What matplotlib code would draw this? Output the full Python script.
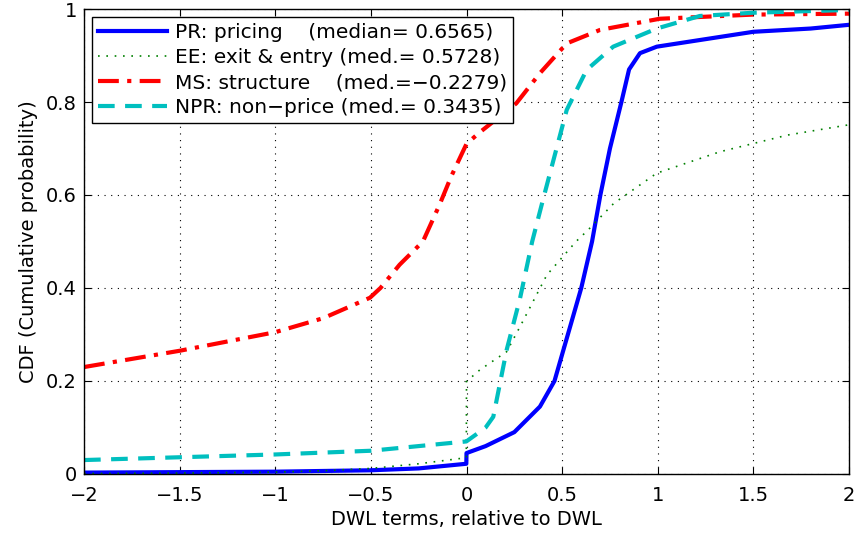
import matplotlib.pyplot as plt
import numpy as np

plt.rcParams['font.family'] = ['DejaVu Sans']

# PR: pricing
pr_x = [-2, -1.5, -1, -0.5, -0.25, -0.001, 0.0, 0.1, 0.25, 0.384, 0.46, 0.53, 0.60, 0.6565, 0.70, 0.75, 0.81, 0.85, 0.907, 0.995, 1.2, 1.5, 1.8, 2]
pr_y = [0.003, 0.004, 0.005, 0.008, 0.012, 0.022, 0.045, 0.06, 0.09, 0.145, 0.2, 0.3, 0.4, 0.5, 0.6, 0.7, 0.8, 0.87, 0.905, 0.919, 0.932, 0.951, 0.958, 0.966]

# EE: exit & entry
ee_x = [-2, -1.5, -1, -0.75, -0.5, -0.25, -0.001, 0.0, 0.07, 0.21, 0.28, 0.42, 0.5728, 0.636, 0.77, 0.995, 1.325, 1.68, 2]
ee_y = [0.001, 0.002, 0.004, 0.007, 0.012, 0.022, 0.035, 0.199, 0.224, 0.263, 0.317, 0.428, 0.5, 0.525, 0.582, 0.647, 0.693, 0.729, 0.751]

# MS: structure
ms_x = [-2, -1.5, -1, -0.75, -0.505, -0.45, -0.35, -0.2279, -0.14, -0.08, 0.0, 0.07, 0.26, 0.384, 0.524, 0.698, 1.01, 1.5, 2]
ms_y = [0.23, 0.265, 0.305, 0.335, 0.379, 0.40, 0.45, 0.5, 0.58, 0.64, 0.71, 0.735, 0.797, 0.862, 0.926, 0.955, 0.979, 0.988, 0.99]

# NPR: non-price
npr_x = [-2, -1.5, -1, -0.5, -0.001, 0.05, 0.1, 0.14, 0.21, 0.28, 0.3435, 0.40, 0.524, 0.628, 0.767, 0.995, 1.22, 1.5, 2]
npr_y = [0.03, 0.036, 0.042, 0.05, 0.07, 0.085, 0.1, 0.123, 0.267, 0.378, 0.5, 0.59, 0.783, 0.869, 0.919, 0.958, 0.985, 0.992, 0.998]

labels = ['PR: pricing    (median= 0.6565)',
          'EE: exit & entry (med.= 0.5728)',
          'MS: structure    (med.=\u22120.2279)',
          'NPR: non\u2212price (med.= 0.3435)']

fig = plt.figure(figsize=(8.6, 5.39), dpi=100)
ax = fig.add_axes([0.0977, 0.1206, 0.8895, 0.8627])

ax.plot(pr_x, pr_y, color=(0, 0, 1), lw=3, ls='-', label=labels[0])
ax.plot(ee_x, ee_y, color=(0, 0.5, 0), lw=1.2, ls=(0, (1, 4)), label=labels[1])
ax.plot(ms_x, ms_y, color=(1, 0, 0), lw=3, ls=(0, (5, 2, 1, 2)), label=labels[2])
ax.plot(npr_x, npr_y, color=(0, 0.75, 0.75), lw=3, ls=(0, (4, 2.5)), label=labels[3])

ax.set_xlim(-2, 2)
ax.set_ylim(0, 1)
ax.set_xticks(np.arange(-2, 2.01, 0.5))
ax.set_xticklabels(['\u22122', '\u22121.5', '\u22121', '\u22120.5', '0', '0.5', '1', '1.5', '2'])
ax.set_yticks([0, 0.2, 0.4, 0.6, 0.8, 1])
ax.set_yticklabels(['0', '0.2', '0.4', '0.6', '0.8', '1'])
ax.tick_params(direction='in', top=True, right=True, labelsize=14, length=5)
ax.tick_params(axis='x', pad=9)
ax.tick_params(axis='y', pad=5)
ax.grid(True, color='black', ls=(0, (1, 5)), lw=0.8)
for s in ax.spines.values():
    s.set_linewidth(1)

ax.set_xlabel('DWL terms, relative to DWL', fontsize=14, labelpad=3)
ax.set_ylabel('CDF (Cumulative probability)', fontsize=14, labelpad=6)

leg = ax.legend(loc='upper left', fontsize=14.5, fancybox=False, framealpha=1,
                edgecolor='black', handlelength=3.4, borderpad=0.3,
                labelspacing=0.3, handletextpad=0.4, borderaxespad=0.4)
leg.get_frame().set_linewidth(1)

plt.savefig('out.png', dpi=100)
